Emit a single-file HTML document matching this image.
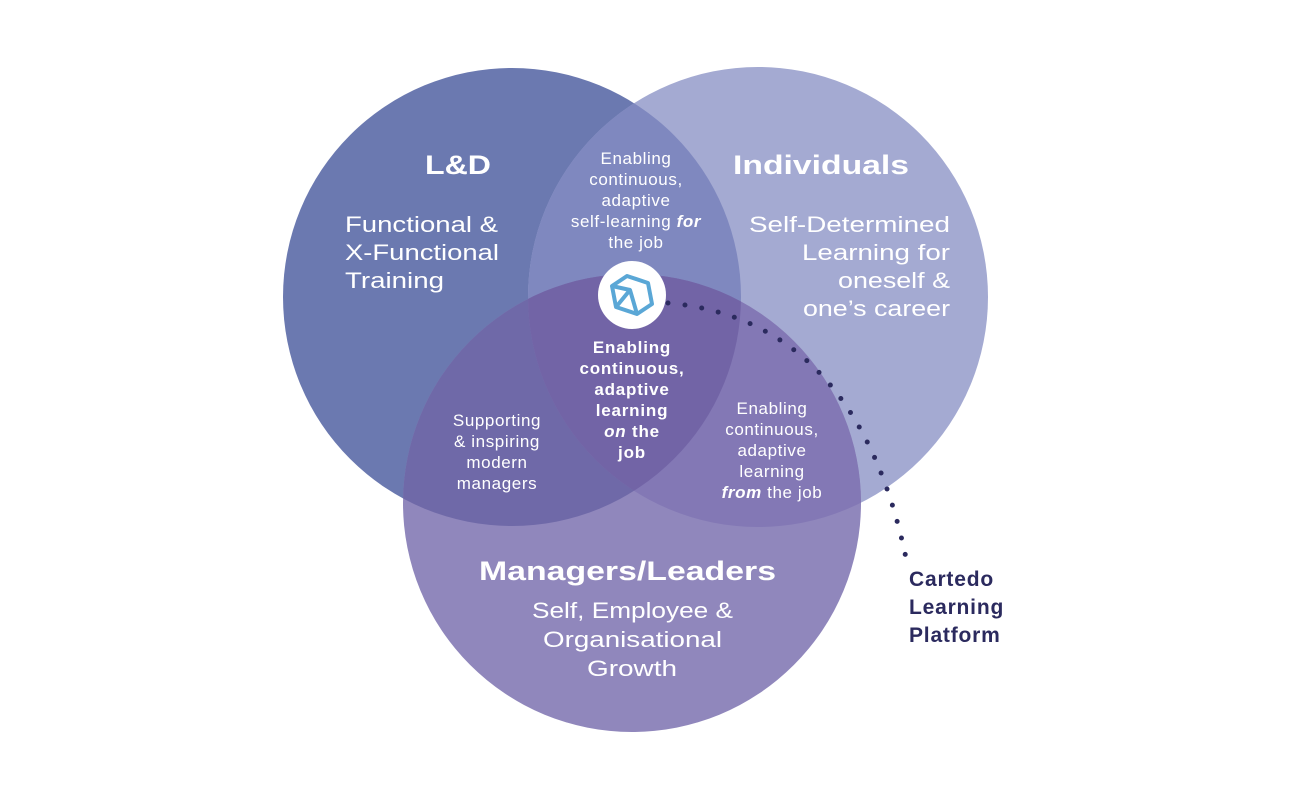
<!DOCTYPE html>
<html><head><style>html,body{margin:0;padding:0;background:#fff}</style></head><body>
<svg width="1300" height="800" viewBox="0 0 1300 800" xmlns="http://www.w3.org/2000/svg" font-family="Liberation Sans, sans-serif">
<defs>
<clipPath id="A"><circle cx="512" cy="297" r="229"/></clipPath>
<clipPath id="B"><circle cx="758" cy="297" r="230"/></clipPath>
<clipPath id="C"><circle cx="632" cy="503" r="229"/></clipPath>
</defs>
<circle cx="512" cy="297" r="229" fill="#6b79b0"/>
<circle cx="758" cy="297" r="230" fill="#a4aad2"/>
<circle cx="632" cy="503" r="229" fill="#9087bc"/>
<circle cx="758" cy="297" r="230" fill="#7f88bf" clip-path="url(#A)"/>
<circle cx="632" cy="503" r="229" fill="#6f69a8" clip-path="url(#A)"/>
<circle cx="632" cy="503" r="229" fill="#8378b5" clip-path="url(#B)"/>
<g clip-path="url(#A)"><circle cx="758" cy="297" r="230" fill="#7264a6" clip-path="url(#C)"/></g>
<path d="M668 303 Q860 320 908 568" fill="none" stroke="#2b2a5e" stroke-width="5" stroke-linecap="round" stroke-dasharray="0 17"/>
<circle cx="632" cy="295" r="34" fill="#fff"/>
<g fill="none" stroke="#5aa7d6" stroke-width="4" stroke-linejoin="round">
<polygon points="627,276 648,283 652,304 637,314 616,307 612,286"/>
<path d="M616,307 L630,290 L637,314 M612,286 L630,290"/>
</g>
<g fill="#fff" font-weight="bold" font-size="27" lengthAdjust="spacingAndGlyphs">
<text x="425" y="174" textLength="66" lengthAdjust="spacingAndGlyphs">L&amp;D</text>
<text x="733" y="174" textLength="176" lengthAdjust="spacingAndGlyphs">Individuals</text>
<text x="479" y="580" textLength="297" lengthAdjust="spacingAndGlyphs">Managers/Leaders</text>
</g>
<g fill="#fff" font-size="22">
<text x="345" y="232" textLength="153" lengthAdjust="spacingAndGlyphs">Functional &amp;</text>
<text x="345" y="260" textLength="154" lengthAdjust="spacingAndGlyphs">X-Functional</text>
<text x="345" y="288" textLength="99" lengthAdjust="spacingAndGlyphs">Training</text>
<text x="749" y="232" textLength="201" lengthAdjust="spacingAndGlyphs">Self-Determined</text>
<text x="802" y="260" textLength="148" lengthAdjust="spacingAndGlyphs">Learning for</text>
<text x="838" y="288" textLength="112" lengthAdjust="spacingAndGlyphs">oneself &amp;</text>
<text x="803" y="316" textLength="147" lengthAdjust="spacingAndGlyphs">one’s career</text>
<text x="532" y="618" textLength="201" lengthAdjust="spacingAndGlyphs">Self, Employee &amp;</text>
<text x="543" y="647" textLength="179" lengthAdjust="spacingAndGlyphs">Organisational</text>
<text x="587" y="676" textLength="90" lengthAdjust="spacingAndGlyphs">Growth</text>
</g>
<g fill="#fff" font-size="17" text-anchor="middle" letter-spacing="0.6">
<text x="636" y="164">Enabling</text>
<text x="636" y="185">continuous,</text>
<text x="636" y="206">adaptive</text>
<text x="636" y="227">self-learning <tspan font-style="italic" font-weight="bold">for</tspan></text>
<text x="636" y="248">the job</text>
<text x="497" y="426">Supporting</text>
<text x="497" y="447">&amp; inspiring</text>
<text x="497" y="468">modern</text>
<text x="497" y="489">managers</text>
<text x="772" y="414">Enabling</text>
<text x="772" y="435">continuous,</text>
<text x="772" y="456">adaptive</text>
<text x="772" y="477">learning</text>
<text x="772" y="498"><tspan font-style="italic" font-weight="bold">from</tspan> the job</text>
</g>
<g fill="#fff" font-size="17" font-weight="bold" text-anchor="middle" letter-spacing="0.8">
<text x="632" y="353">Enabling</text>
<text x="632" y="374">continuous,</text>
<text x="632" y="395">adaptive</text>
<text x="632" y="416">learning</text>
<text x="632" y="437"><tspan font-style="italic">on</tspan> the</text>
<text x="632" y="458">job</text>
</g>
<g fill="#2b2a5e" font-size="21" font-weight="bold" letter-spacing="0.8">
<text x="909" y="586">Cartedo</text>
<text x="909" y="614">Learning</text>
<text x="909" y="642">Platform</text>
</g>
</svg>
</body></html>
